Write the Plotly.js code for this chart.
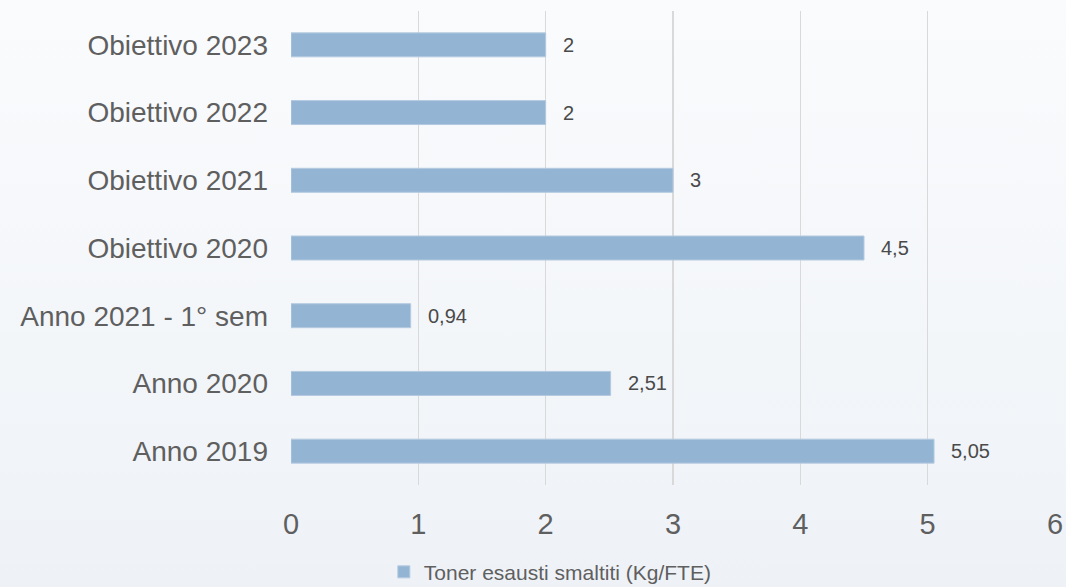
<!DOCTYPE html>
<html>
<head>
<meta charset="utf-8">
<script src="https://cdn.plot.ly/plotly-3.0.1.min.js"></script>
<style>
html,body{margin:0;padding:0;width:1066px;height:587px;overflow:hidden;
background:linear-gradient(180deg,#fafbfd 0%,#f3f6f9 60%,#eef2f7 100%);}
#chart{width:1066px;height:587px;}
</style>
</head>
<body>
<div id="chart"></div>
<script>
const categories = ["Anno 2019","Anno 2020","Anno 2021 - 1° sem","Obiettivo 2020","Obiettivo 2021","Obiettivo 2022","Obiettivo 2023"];
const values = [5.05, 2.51, 0.94, 4.5, 3, 2, 2];
const seriesName = "Toner esausti smaltiti (Kg/FTE)";
const xTicks = [0,1,2,3,4,5,6];

const labelTexts = values.map(v => String(v).replace('.', ','));

const trace = {
  type: 'bar',
  orientation: 'h',
  y: categories,
  x: values,
  name: seriesName,
  marker: {color: '#94B4D3', line: {color: '#B4CAE0', width: 1}},
  hoverinfo: 'x+y'
};

const annotations = values.map((v, i) => ({
  x: v, y: categories[i], xref: 'x', yref: 'y',
  text: labelTexts[i], showarrow: false,
  xanchor: 'left', yanchor: 'middle', xshift: 15,
  font: {family: 'Liberation Sans, Arial, sans-serif', size: 20, color: '#4a4a4a'}
}));

const layout = {
  width: 1066, height: 587,
  margin: {l: 291, r: 11, t: 11, b: 102, autoexpand: false},
  paper_bgcolor: 'rgba(0,0,0,0)',
  plot_bgcolor: 'rgba(0,0,0,0)',
  bargap: 0.646,
  showlegend: true,
  legend: {
    orientation: 'h', x: 0.1215, xanchor: 'left', y: -0.184, yanchor: 'middle',
    itemwidth: 30,
    font: {family: 'Liberation Sans, Arial, sans-serif', size: 21, color: '#5f5f5f'},
    bgcolor: 'rgba(0,0,0,0)'
  },
  xaxis: {
    range: [0, 6], tickvals: xTicks, ticktext: xTicks.map(String),
    showgrid: true, gridcolor: '#d9d9d9', gridwidth: 1.5,
    zeroline: false, showline: false, ticks: '',
    ticklabelstandoff: 19,
    tickfont: {family: 'Liberation Sans, Arial, sans-serif', size: 29, color: '#5f5f5f'},
    fixedrange: true
  },
  yaxis: {
    type: 'category', categoryorder: 'array', categoryarray: categories,
    showgrid: false, zeroline: false, showline: false, ticks: '',
    ticklabelstandoff: 22,
    tickfont: {family: 'Liberation Sans, Arial, sans-serif', size: 28, color: '#5f5f5f'},
    fixedrange: true
  },
  annotations: annotations
};

Plotly.newPlot('chart', [trace], layout, {displayModeBar: false, staticPlot: true});
</script>
</body>
</html>
